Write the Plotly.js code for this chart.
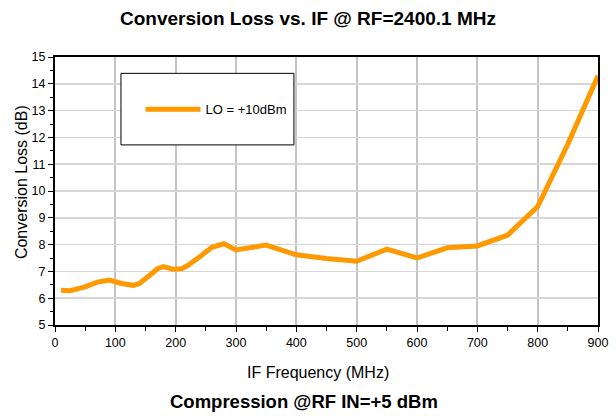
<!DOCTYPE html>
<html><head><meta charset="utf-8">
<script src="https://cdn.plot.ly/plotly-3.0.1.min.js"></script>
<style>html,body{margin:0;padding:0;background:#fff}#c{width:616px;height:416px}</style>
</head><body><div id="c"></div>
<script>
const ifFreq = [10, 25, 50, 70, 90, 110, 130, 140, 155, 170, 180, 195, 210, 220, 240, 260, 280, 300, 350, 400, 450, 500, 550, 600, 650, 700, 750, 800, 850, 900];
const convLoss = [6.3, 6.28, 6.42, 6.6, 6.68, 6.55, 6.48, 6.55, 6.82, 7.1, 7.18, 7.08, 7.1, 7.22, 7.55, 7.9, 8.03, 7.8, 7.98, 7.62, 7.48, 7.38, 7.83, 7.5, 7.88, 7.95, 8.35, 9.42, 11.75, 14.3];
const seriesName = "LO = +10dBm";
const xTicks = [0,100,200,300,400,500,600,700,800,900];
const yTicks = [5,6,7,8,9,10,11,12,13,14,15];

const font = "Liberation Sans, Arial, sans-serif";
Plotly.newPlot('c', [{
  x: ifFreq, y: convLoss, name: seriesName, type: 'scatter', mode: 'lines',
  line: {color: '#FF9900', width: 5}
}], {
  width: 616, height: 416,
  margin: {l: 55, r: 18, t: 57, b: 91},
  paper_bgcolor: '#fff', plot_bgcolor: '#fff',
  font: {family: font, color: '#000', size: 12},
  title: {text: '<b>Conversion Loss vs. IF @ RF=2400.1 MHz</b>', font: {size: 19}, x: 0.5, xanchor: 'center', y: 0.957, yanchor: 'middle'},
  showlegend: true,
  legend: {x: 0.1575, y: 0.805, xanchor: 'left', yanchor: 'middle', bgcolor: 'rgba(0,0,0,0)', borderwidth: 0, font: {size: 13}, itemwidth: 55},
  xaxis: {range: [0, 900], tickvals: xTicks, ticktext: xTicks.map(String), ticks: 'outside', ticklen: 5, tickcolor: '#000', tickwidth: 1,
    minor: {dtick: 50, tick0: 0, ticks: 'outside', ticklen: 4, tickcolor: '#000', showgrid: false},
    showgrid: true, gridcolor: '#c4c4c4', gridwidth: 2, zeroline: false,
    showline: true, linecolor: '#000', linewidth: 2, mirror: true, tickfont: {size: 12.5}},
  yaxis: {range: [5, 15], tickvals: yTicks, ticktext: yTicks.map(String), ticks: 'outside', ticklen: 5, tickcolor: '#000', tickwidth: 1,
    minor: {dtick: 0.5, tick0: 5, ticks: 'outside', ticklen: 3, tickcolor: '#000', showgrid: false},
    showgrid: true, gridcolor: '#d6d6d6', gridwidth: 1.5, zeroline: false,
    showline: true, linecolor: '#000', linewidth: 2, mirror: true, tickfont: {size: 12.5}},
  shapes: [{type: 'rect', xref: 'paper', yref: 'paper', x0: 0.1215, x1: 0.44, y0: 0.672, y1: 0.939, line: {color: '#000', width: 1}, fillcolor: '#fff', layer: 'above'}],
  annotations: [
    {text: 'IF Frequency (MHz)', xref: 'paper', yref: 'paper', x: 0.4843, y: -0.179, xanchor: 'center', yanchor: 'middle', showarrow: false, font: {size: 16}},
    {text: 'Conversion Loss (dB)', xref: 'paper', yref: 'paper', x: -0.0617, y: 0.535, xanchor: 'center', yanchor: 'middle', textangle: -90, showarrow: false, font: {size: 16}},
    {text: '<b>Compression @RF IN=+5 dBm</b>', xref: 'paper', yref: 'paper', x: 0.4586, y: -0.2854, xanchor: 'center', yanchor: 'middle', showarrow: false, font: {size: 18.5}}
  ]
}, {displayModeBar: false, staticPlot: true});
</script>
</body></html>
